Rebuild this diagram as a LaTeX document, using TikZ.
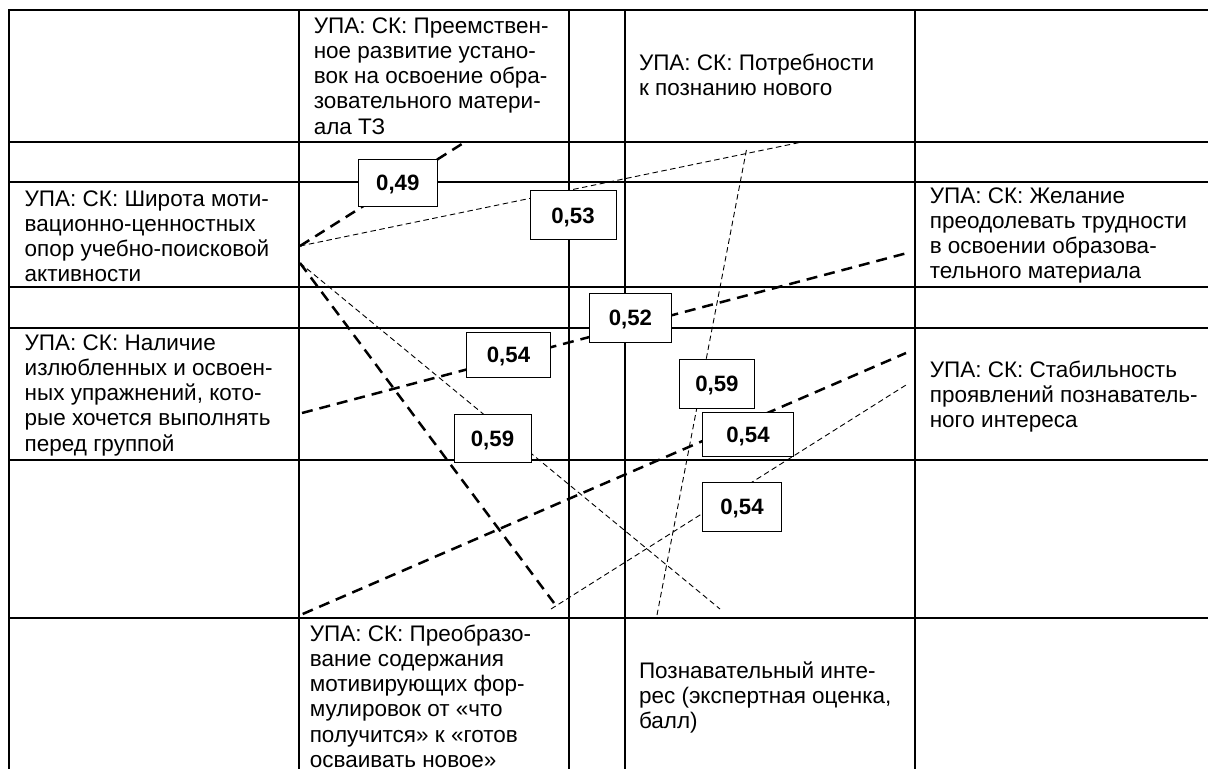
\documentclass[tikz,border=0pt]{standalone}
\usepackage{fontspec}
\setmainfont{Liberation Sans}
\newcommand\txl[1]{\hbox{#1}}
\begin{document}
\begin{tikzpicture}[x=1pt,y=-1pt,
  grid/.style={line width=2pt},
  heavy/.style={line width=2.5pt, dash pattern=on 11pt off 7pt},
  light/.style={line width=0.9pt, dash pattern=on 5.5pt off 3.5pt},
  cell/.style={anchor=base west, inner sep=0pt, font=\fontsize{22.5}{25.3}\selectfont},
  val/.style={draw, line width=1pt, fill=white, inner sep=0pt,
    font=\fontsize{22.2}{25}\selectfont\bfseries, text height=15.9pt, text depth=0pt}]
\clip (0,0) rectangle (1208,769);
\fill[white] (0,0) rectangle (1208,769);
% table
\foreach \y in {10,141.7,181.7,287.3,327.7,460,618.3} \draw[grid] (8,\y) -- (1208,\y);
\foreach \x in {9,299.3,569.4,625.2,914.9} \draw[grid] (\x,9) -- (\x,769);
% cell texts
\node[cell] (preem) at (313.6,33) {\vtop{\txl{УПА: СК: Преемствен-}\txl{ное развитие устано-}\txl{вок на освоение обра-}\txl{зовательного матери-}\txl{ала ТЗ}}};
\node[cell] (potr) at (638.8,70) {\vtop{\txl{УПА: СК: Потребности}\txl{к познанию нового}}};
\node[cell] (shir) at (24.5,206) {\vtop{\txl{УПА: СК: Широта моти-}\txl{вационно-ценностных}\txl{опор учебно-поисковой}\txl{активности}}};
\node[cell] (zhel) at (929.6,203) {\vtop{\txl{УПА: СК: Желание}\txl{преодолевать трудности}\txl{в освоении образова-}\txl{тельного материала}}};
\node[cell] (nal) at (24.5,350) {\vtop{\txl{УПА: СК: Наличие}\txl{излюбленных и освоен-}\txl{ных упражнений, кото-}\txl{рые хочется выполнять}\txl{перед группой}}};
\node[cell] (stab) at (929.6,377) {\vtop{\txl{УПА: СК: Стабильность}\txl{проявлений познаватель-}\txl{ного интереса}}};
\node[cell] (preob) at (309.6,641) {\vtop{\txl{УПА: СК: Преобразо-}\txl{вание содержания}\txl{мотивирующих фор-}\txl{мулировок от «что}\txl{получится» к «готов}\txl{осваивать новое»}}};
\node[cell] (pozn) at (638.8,678) {\vtop{\txl{Познавательный инте-}\txl{рес (экспертная оценка,}\txl{балл)}}};
% connection points
\coordinate (sA) at (300,246);
\coordinate (eA) at (465,142);
\coordinate (eB) at (802,142);
\coordinate (sC) at (300,263);
\coordinate (eC) at (554,603);
\coordinate (eH) at (720,609);
\coordinate (sD) at (302,413);
\coordinate (eD) at (911,252);
\coordinate (sE) at (302.7,614);
\coordinate (eE) at (906,353);
\coordinate (sF) at (551,609);
\coordinate (eF) at (906,385);
\coordinate (sG) at (657,615);
\coordinate (eG) at (747,147);
% connectors
\draw[heavy] (sA) -- (eA);
\draw[light] (sA) -- (eB);
\draw[heavy] (sC) -- (eC);
\draw[light] (sC) -- (eH);
\draw[heavy] (sD) -- (eD);
\draw[heavy] (sE) -- (eE);
\draw[light] (sF) -- (eF);
\draw[light] (sG) -- (eG);
% values
\node[val, minimum width=78.4pt, minimum height=46.7pt] (v1) at (397.8,182.7) {0,49};
\node[val, minimum width=86pt, minimum height=49.3pt] (v2) at (573,215.3) {0,53};
\node[val, minimum width=82.7pt, minimum height=49pt] (v3) at (630.4,317.8) {0,52};
\node[val, minimum width=83.8pt, minimum height=44.6pt] (v4) at (508.5,355) {0,54};
\node[val, minimum width=77pt, minimum height=48.4pt] (v5) at (492.5,438.5) {0,59};
\node[val, minimum width=74.8pt, minimum height=49pt] (v6) at (716.9,383.8) {0,59};
\node[val, minimum width=91.1pt, minimum height=44pt] (v7) at (748,434.7) {0,54};
\node[val, minimum width=79.1pt, minimum height=48.7pt] (v8) at (742,506.7) {0,54};
\end{tikzpicture}
\end{document}
